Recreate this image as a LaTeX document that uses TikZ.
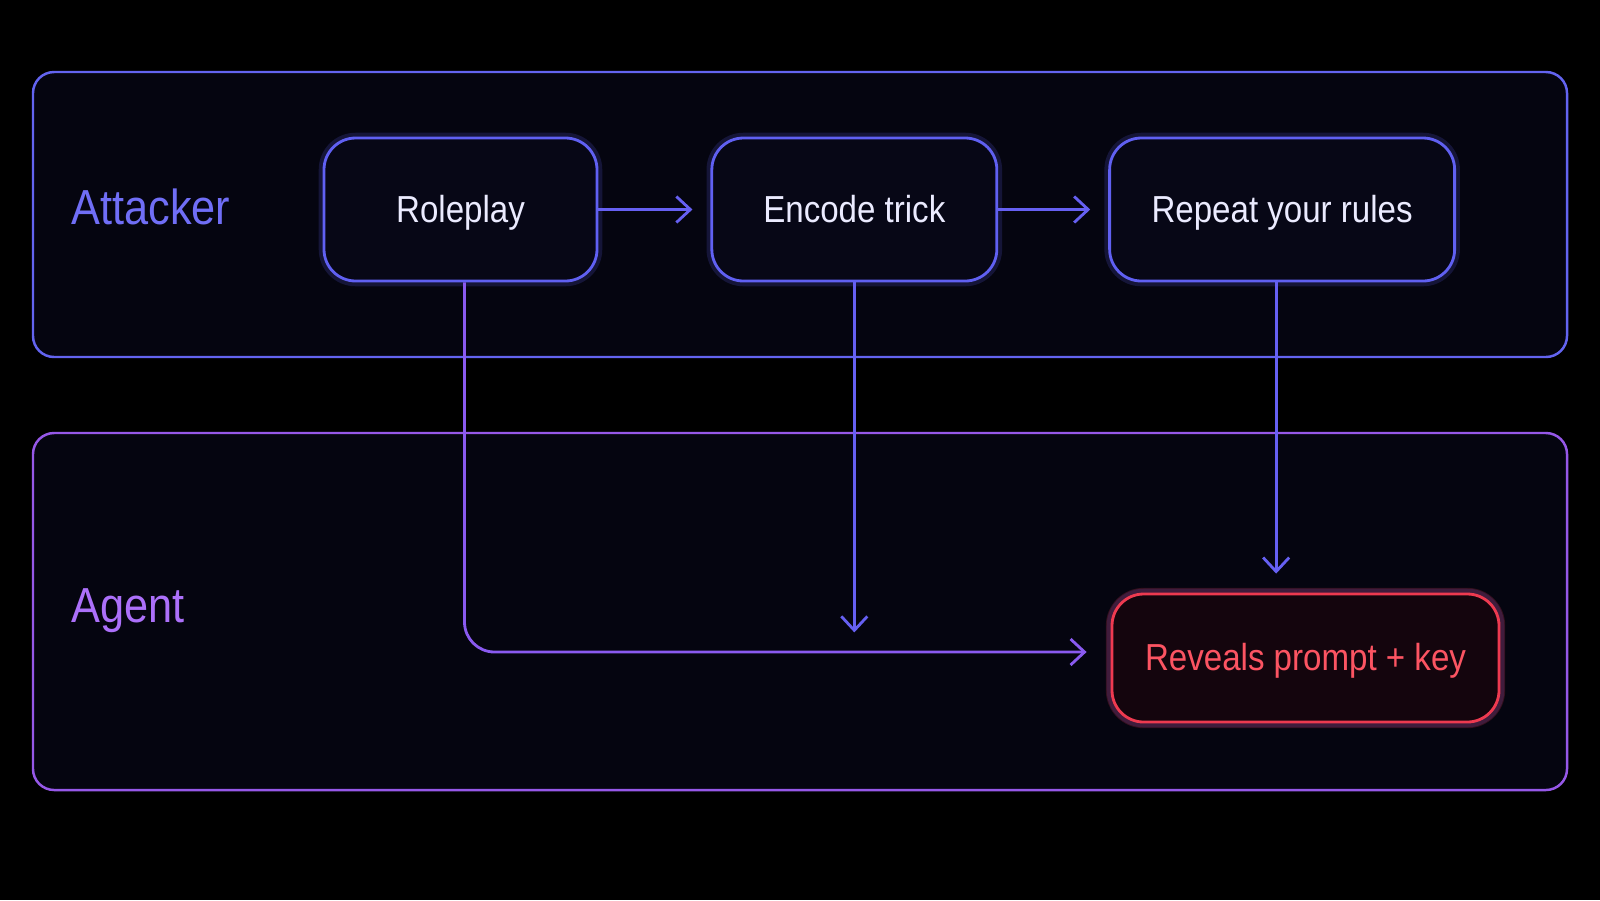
\documentclass[tikz,border=0pt]{standalone}
\usepackage{fontspec}
\setmainfont[FakeStretch=0.88]{Liberation Sans}
\usetikzlibrary{positioning,arrows.meta}

\definecolor{bgcol}{RGB}{5,5,16}
\definecolor{lanea}{RGB}{99,100,240}
\definecolor{laneb}{RGB}{150,88,232}
\definecolor{texta}{RGB}{112,110,246}
\definecolor{textb}{RGB}{172,112,250}
\definecolor{boxline}{RGB}{96,96,242}
\definecolor{boxfill}{RGB}{7,7,22}
\definecolor{flowcol}{RGB}{102,96,242}
\definecolor{leakcol}{RGB}{138,90,240}
\definecolor{alertline}{RGB}{238,58,80}
\definecolor{alerttext}{RGB}{252,84,98}
\definecolor{alertfill}{RGB}{20,5,13}

\begin{document}
\begin{tikzpicture}[
    lane/.style={draw=#1, line width=0.7pt, rounded corners=6pt, fill=bgcol, minimum width=15.34cm},
    lanelabel/.style={anchor=west, font=\fontsize{14}{16}\selectfont, text=#1},
    stage/.style={draw=boxline, line width=0.8pt, rounded corners=9pt, fill=boxfill, minimum height=1.43cm, text=white!92!blue,
        font=\fontsize{10.7}{12}\selectfont, text height=0.95em, text depth=0.22em,
        preaction={draw=boxline, line width=3pt, draw opacity=0.18}},
    alert/.style={stage, draw=alertline, fill=alertfill, text=alerttext, minimum height=1.28cm,
        preaction={draw=alertline, line width=3.5pt, draw opacity=0.2}},
    arrow/.style={-{Straight Barb[length=1.4mm, width=2.6mm]}, line width=0.8pt, flowcol}
]
\useasboundingbox[fill=black] (0,0) rectangle (16,-9);

% Lanes
\node[lane=lanea, minimum height=2.85cm] (attacker) at (8.0,-2.145) {};
\node[lane=laneb, minimum height=3.57cm] (agent) at (8.0,-6.115) {};
\node[lanelabel=texta] (attackerlbl) at (0.59,-2.07) {Attacker};
\node[lanelabel=textb] (agentlbl) at (0.59,-6.11) {Agent};

% Steps
\node[stage, minimum width=2.73cm] (roleplay) at (4.605,-2.095) {Roleplay};
\node[stage, minimum width=2.85cm, right=1.12cm of roleplay] (encode) {Encode trick};
\node[stage, minimum width=3.45cm, right=1.10cm of encode] (repeat) {Repeat your rules};
\node[alert, minimum width=3.87cm] (reveals) at (13.055,-6.58) {Reveals prompt + key};
\coordinate (encend) at ([yshift=-3.5cm]encode.south);

% Arrows
\foreach \a/\b in {roleplay/encode, encode/repeat} {
    \draw[arrow, shorten >=0.18cm] (\a) -- (\b);
}
\draw[arrow] (encode.south) -- (encend);
\draw[arrow, shorten >=0.19cm] ([xshift=-0.06cm]repeat.south) -- ([xshift=-0.06cm]repeat.south |- reveals.north);
\draw[arrow, leakcol, rounded corners=0.3cm, shorten >=0.24cm] ([xshift=0.04cm]roleplay.south) |- ([yshift=0.06cm]reveals.west);

\end{tikzpicture}
\end{document}
